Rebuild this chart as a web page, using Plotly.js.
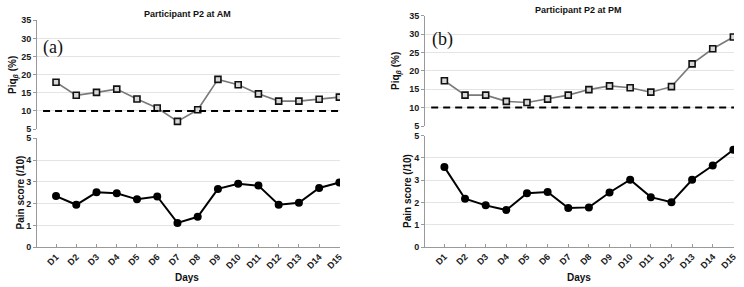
<!DOCTYPE html>
<html>
<head>
<meta charset="utf-8">
<script src="https://cdn.plot.ly/plotly-3.0.1.min.js"></script>
<style>
  html, body { margin: 0; padding: 0; background: #fff; }
  #chart { width: 744px; height: 287px; }
</style>
</head>
<body>
<div id="chart"></div>
<script>
// Daily measurements for participant P2 over fifteen days
const days = ['D1','D2','D3','D4','D5','D6','D7','D8','D9','D10','D11','D12','D13','D14','D15'];
const dayIndex = [1,2,3,4,5,6,7,8,9,10,11,12,13,14,15];

// Morning session
const piqAM  = [17.9, 14.3, 15.1, 16.0, 13.3, 10.8, 7.1, 10.3, 18.7, 17.2, 14.7, 12.7, 12.7, 13.2, 13.8];
const painAM = [2.35, 1.95, 2.52, 2.48, 2.20, 2.33, 1.12, 1.40, 2.68, 2.91, 2.83, 1.95, 2.04, 2.72, 2.97];

// Evening session
const piqPM  = [17.3, 13.4, 13.4, 11.7, 11.4, 12.3, 13.4, 14.9, 15.9, 15.4, 14.2, 15.7, 21.9, 26.0, 29.2];
const painPM = [3.59, 2.17, 1.87, 1.66, 2.42, 2.47, 1.75, 1.78, 2.45, 3.02, 2.24, 2.01, 3.02, 3.66, 4.37];

// Axis tick values
const piqTicks  = [5, 10, 15, 20, 25, 30, 35];
const painTicks = [0, 1, 2, 3, 4, 5];

const piqThreshold = 10;
const titles = ['Participant P2 at AM', 'Participant P2 at PM'];
const panelTags = ['(a)', '(b)'];
const piqTitle = 'Piq<sub><i>β</i></sub> (%)';
const painTitle = 'Pain score (/10)';
const xTitle = 'Days';

const W = 744, H = 287;
const px = v => v / W;
const py = v => 1 - v / H;
const bold = s => '<b>' + s + '</b>';

const FONT = 'Liberation Sans, Arial, sans-serif';
const SERIF = 'Liberation Serif, Times New Roman, serif';

function piqTrace(y, xa, ya) {
  return {
    x: dayIndex, y: y, xaxis: xa, yaxis: ya, type: 'scatter', mode: 'lines+markers',
    line: { color: '#7a7a7a', width: 1.6 },
    marker: { symbol: 'square', size: 6, color: '#d8d8d8', line: { color: '#111', width: 1.6 } },
    hoverinfo: 'skip'
  };
}
function painTrace(y, xa, ya) {
  return {
    x: dayIndex, y: y, xaxis: xa, yaxis: ya, type: 'scatter', mode: 'lines+markers',
    line: { color: '#000', width: 2 },
    marker: { symbol: 'circle', size: 8, color: '#000' },
    hoverinfo: 'skip'
  };
}

const data = [
  piqTrace(piqAM, 'x', 'y'),
  painTrace(painAM, 'x2', 'y2'),
  piqTrace(piqPM, 'x3', 'y3'),
  painTrace(painPM, 'x4', 'y4')
];

const xRange = [0.06, 15.03];
const tickFont = { family: FONT, size: 9, color: '#1a1a1a' };

function topX(dom, anchor) {
  return { domain: dom, anchor: anchor, range: xRange, showgrid: false, showline: false,
           zeroline: false, showticklabels: false, ticks: '', tickvals: dayIndex };
}
function bottomX(dom, anchor) {
  return { domain: dom, anchor: anchor, range: xRange, showgrid: false, zeroline: false,
           showline: true, linecolor: '#9a9a9a', linewidth: 1,
           tickvals: dayIndex, ticktext: days.map(bold), ticks: 'inside', ticklen: 3, tickcolor: '#9a9a9a',
           tickangle: -45, tickfont: tickFont };
}
function yAxis(dom, anchor, range, ticks) {
  return { domain: dom, anchor: anchor, range: range,
           tickvals: ticks, ticktext: ticks.map(v => bold(String(v))),
           showgrid: true, gridcolor: '#e4e4e4', gridwidth: 1, zeroline: false,
           showline: true, linecolor: '#9a9a9a', linewidth: 1,
           ticks: 'outside', ticklen: 3, tickcolor: '#9a9a9a', tickfont: tickFont };
}

const xL = [px(37), px(340)];
const xR = [px(425), px(734)];

function label(text, x, y, opts) {
  return Object.assign({ text: text, x: px(x), y: py(y), xref: 'paper', yref: 'paper', showarrow: false,
    xanchor: 'center', yanchor: 'middle', font: { family: FONT, size: 10, color: '#111' } }, opts || {});
}

const layout = {
  width: W, height: H,
  margin: { l: 0, r: 0, t: 0, b: 0 },
  paper_bgcolor: '#fff', plot_bgcolor: '#fff',
  showlegend: false,
  font: { family: FONT, size: 9, color: '#1a1a1a' },
  xaxis:  topX(xL, 'y'),
  xaxis2: bottomX(xL, 'y2'),
  xaxis3: topX(xR, 'y3'),
  xaxis4: bottomX(xR, 'y4'),
  yaxis:  yAxis([py(129), py(20.3)], 'x', [5, 35], piqTicks),
  yaxis2: yAxis([py(247.3), py(138.3)], 'x2', [0, 5], painTicks),
  yaxis3: yAxis([py(126), py(15.7)], 'x3', [5, 35], piqTicks),
  yaxis4: yAxis([py(247), py(135.7)], 'x4', [0, 5], painTicks),
  shapes: [
    { type: 'line', xref: 'x domain', yref: 'y', x0: 0.02, x1: 1, y0: piqThreshold, y1: piqThreshold,
      line: { color: '#000', width: 2, dash: '7px,5px' } },
    { type: 'line', xref: 'x3 domain', yref: 'y3', x0: 0.02, x1: 1, y0: piqThreshold, y1: piqThreshold,
      line: { color: '#000', width: 2, dash: '7px,5px' } }
  ],
  annotations: [
    label(bold(titles[0]), 187, 14, { font: { family: FONT, size: 9, color: '#111' } }),
    label(bold(titles[1]), 578, 10, { font: { family: FONT, size: 9, color: '#111' } }),
    label(panelTags[0], 53, 48, { font: { family: SERIF, size: 18, color: '#111' } }),
    label(panelTags[1], 442, 40, { font: { family: SERIF, size: 18, color: '#111' } }),
    label(bold(piqTitle), 13, 75, { textangle: -90 }),
    label(bold(painTitle), 20, 192.5, { textangle: -90 }),
    label(bold(piqTitle), 397, 71, { textangle: -90 }),
    label(bold(painTitle), 407, 191, { textangle: -90 }),
    label(bold(xTitle), 187, 277),
    label(bold(xTitle), 579, 277)
  ]
};

Plotly.newPlot('chart', data, layout, { staticPlot: true, displayModeBar: false });
</script>
</body>
</html>
